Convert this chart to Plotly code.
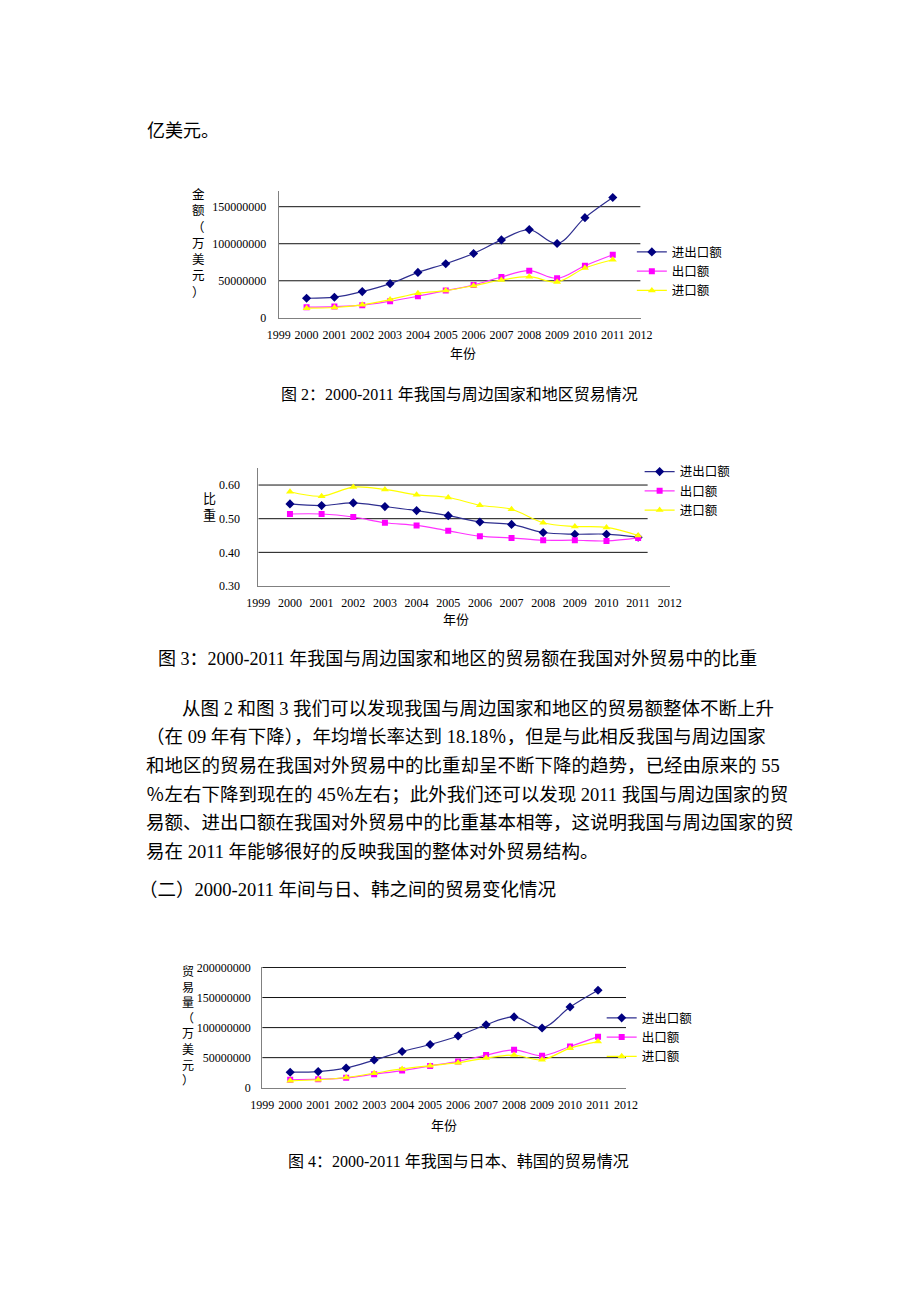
import plotly.graph_objects as go

# page coordinates of the scanned document; the html body adds an 8px margin,
# the figure is kept a bit smaller than the window so the page never scrolls
W, H = 920, 1302
PAGE_MARGIN = 8
FIG_W, FIG_H = 880, 1250

# shared categories
years = [2000, 2001, 2002, 2003, 2004, 2005, 2006, 2007, 2008, 2009, 2010, 2011]
axis_years = [1999, 2000, 2001, 2002, 2003, 2004, 2005, 2006, 2007, 2008, 2009, 2010, 2011, 2012]
series_names = ["进出口额", "出口额", "进口额"]

# 图2: trade with neighbouring countries (万美元)
fig2_total = [26400000, 27800000, 35400000, 46100000, 61300000, 73000000,
              86900000, 105200000, 119100000, 100300000, 135200000, 162500000]
fig2_export = [14300000, 15200000, 17000000, 22400000, 29100000, 36700000,
               44300000, 55100000, 63600000, 53300000, 70300000, 85100000]
fig2_import = [13000000, 13900000, 17500000, 24600000, 33100000, 36700000,
               43400000, 51000000, 55500000, 48400000, 67200000, 78400000]

# 图3: share of total foreign trade
fig3_total = [0.544, 0.539, 0.547, 0.536, 0.524, 0.509, 0.490, 0.483, 0.459, 0.454, 0.454, 0.445]
fig3_export = [0.514, 0.514, 0.505, 0.488, 0.480, 0.464, 0.448, 0.443, 0.436, 0.436, 0.434, 0.443]
fig3_import = [0.580, 0.567, 0.594, 0.587, 0.571, 0.563, 0.540, 0.528, 0.488, 0.477, 0.474, 0.450]

# 图4: trade with Japan and Korea (万美元)
fig4_total = [25800000, 26800000, 32900000, 46000000, 60300000, 71800000,
              86000000, 104700000, 117800000, 99200000, 134200000, 162200000]
fig4_export = [13200000, 14200000, 16400000, 22500000, 28500000, 36200000,
               43800000, 54200000, 63000000, 53200000, 68500000, 84900000]
fig4_import = [11500000, 13200000, 17000000, 24100000, 31200000, 36700000,
               41600000, 49300000, 54200000, 46600000, 65800000, 76700000]

grid2 = [50000000, 100000000, 150000000]
grid3 = [0.40, 0.50, 0.60]
grid4 = [50000000, 100000000, 150000000, 200000000]

body_lines = [
    "从图 2 和图 3 我们可以发现我国与周边国家和地区的贸易额整体不断上升",
    "（在 09 年有下降），年均增长率达到 18.18％，但是与此相反我国与周边国家",
    "和地区的贸易在我国对外贸易中的比重却呈不断下降的趋势，已经由原来的 55",
    "％左右下降到现在的 45％左右；此外我们还可以发现 2011 我国与周边国家的贸",
    "易额、进出口额在我国对外贸易中的比重基本相等，这说明我国与周边国家的贸",
    "易在 2011 年能够很好的反映我国的整体对外贸易结构。",
]

SERIF = "Liberation Serif, Noto Sans CJK SC, sans-serif"
styles = [
    dict(line="#2e2e8f", marker="#000080", symbol="diamond", size=7),
    dict(line="#ff33ff", marker="#ff00ff", symbol="square", size=6),
    dict(line="#ffff00", marker="#ffff00", symbol="triangle-up", size=7),
]


def px(x):
    return (x - PAGE_MARGIN) / FIG_W


def py(y):
    return 1 - (y - PAGE_MARGIN) / FIG_H


fig = go.Figure()


def add_series(values, xref, yref, legend):
    for name, vals, st in zip(series_names, values, styles):
        fig.add_trace(go.Scatter(
            x=years, y=vals, name=name, xaxis=xref, yaxis=yref, legend=legend,
            mode="lines+markers",
            line=dict(color=st["line"], width=1.2, shape="spline"),
            marker=dict(color=st["marker"], symbol=st["symbol"], size=st["size"]),
        ))


def add_grid(levels, xref, yref, x_end):
    for v in levels:
        fig.add_shape(type="line", xref=xref, yref=yref, x0=1999, x1=x_end, y0=v, y1=v,
                      line=dict(color="#111111", width=1), layer="below")


add_series([fig2_total, fig2_export, fig2_import], "x", "y", "legend")
add_series([fig3_total, fig3_export, fig3_import], "x2", "y2", "legend2")
add_series([fig4_total, fig4_export, fig4_import], "x3", "y3", "legend3")

add_grid(grid2, "x", "y", 2012)
add_grid(grid3, "x2", "y2", 2011.3)
add_grid(grid4, "x3", "y3", 2012)

tickfont = dict(size=12, color="black", family=SERIF)
xcommon = dict(range=[1999, 2012], tickvals=axis_years, tickformat="d", showgrid=False,
               zeroline=False, showline=True, linecolor="#808080", ticks="",
               tickfont=tickfont, ticklabelstandoff=6)
ycommon = dict(showgrid=False, zeroline=False, showline=True, linecolor="#808080",
               ticks="", tickfont=tickfont)

fig.update_layout(
    width=FIG_W, height=FIG_H,
    margin=dict(l=0, r=0, t=0, b=0),
    paper_bgcolor="white", plot_bgcolor="white",
    font=dict(family=SERIF, size=12, color="black"),
    xaxis=dict(xcommon, domain=[px(274), px(646)], anchor="y"),
    yaxis=dict(ycommon, domain=[py(315), py(187)], anchor="x", range=[0, 171000000],
               tickvals=[0] + grid2, tickformat="d", ticklabelstandoff=9),
    xaxis2=dict(xcommon, domain=[px(253), px(676)], anchor="y2"),
    yaxis2=dict(ycommon, domain=[py(586), py(467)], anchor="x2", range=[0.30, 0.65],
                tickvals=[0.30] + grid3, tickformat=".2f", ticklabelstandoff=15),
    xaxis3=dict(xcommon, domain=[px(257), px(631)], anchor="y3"),
    yaxis3=dict(ycommon, domain=[py(1093), py(971)], anchor="x3", range=[0, 200800000],
                tickvals=[0] + grid4, tickformat="d", ticklabelstandoff=8),
    showlegend=True,
)

legend_common = dict(font=dict(size=12.5), bgcolor="rgba(0,0,0,0)", itemwidth=30,
                     xanchor="left", yanchor="middle", tracegroupgap=0)
fig.update_layout(
    legend=dict(legend_common, x=px(637), y=py(268)),
    legend2=dict(legend_common, x=px(645), y=py(490)),
    legend3=dict(legend_common, x=px(606), y=py(1042)),
)


def note(text, x, y, size, xanchor="center", family=SERIF):
    fig.add_annotation(text=text, x=px(x), y=py(y), xref="paper", yref="paper",
                       xanchor=xanchor, yanchor="middle", showarrow=False,
                       font=dict(size=size, family=family, color="black"))


# running text of the page
note("亿美元。", 136, 126, 18, "left")
note("图 2：2000-2011 年我国与周边国家和地区贸易情况", 460, 393, 16)
note("图 3：2000-2011 年我国与周边国家和地区的贸易额在我国对外贸易中的比重", 458, 660, 18)
note("图 4：2000-2011 年我国与日本、韩国的贸易情况", 459, 1168, 16)

line_y = [710, 739, 768, 797, 826, 855]
for i, (txt, yy) in enumerate(zip(body_lines, line_y)):
    note(txt, 172 if i == 0 else 135, yy, 18.5, "left")
note("（二）2000-2011 年间与日、韩之间的贸易变化情况", 128, 893, 18.5, "left")

# axis titles
note("<br>".join("金额（万美元）"), 191, 240, 12.5)
note("年份", 463, 351, 13)
note("<br>".join("比重"), 203, 506, 13)
note("年份", 456, 620, 13)
note("<br>".join("贸易量（万美元）"), 181, 1031, 12)
note("年份", 444, 1131, 13)

fig.write_html("out.html")
